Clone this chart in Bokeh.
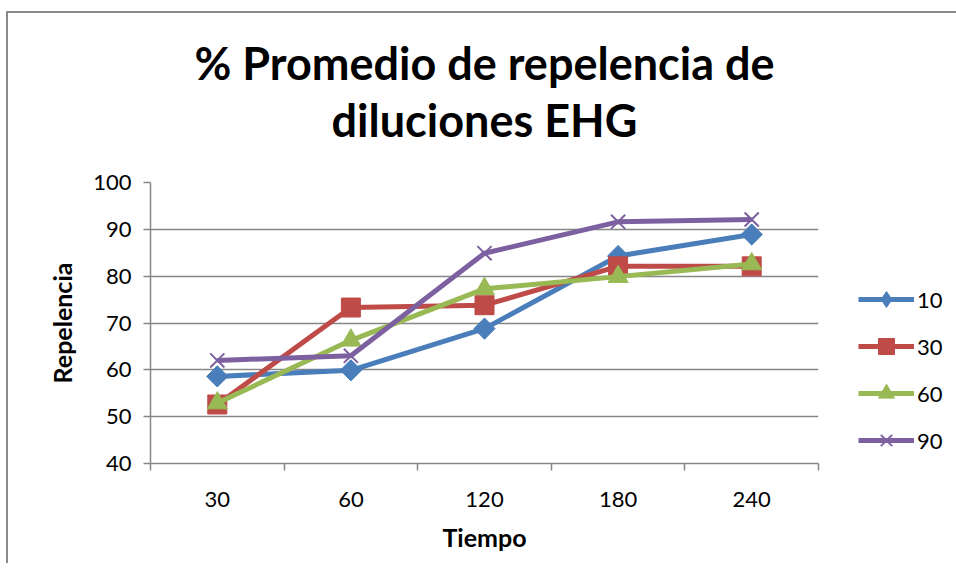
import math
from bokeh.plotting import figure
from bokeh.models import Range1d, FixedTicker, Legend, LegendItem, Title, ColumnDataSource
from bokeh.embed import file_html
from bokeh.resources import INLINE

categories = ["30", "60", "120", "180", "240"]
series_names = ["10", "30", "60", "90"]
s10 = [58.6, 59.9, 68.8, 84.3, 88.9]
s30 = [52.6, 73.3, 73.8, 82.1, 82.1]
s60 = [52.9, 66.3, 77.3, 79.9, 82.6]
s90 = [62.0, 63.0, 84.9, 91.6, 92.1]
y_ticks = [40, 50, 60, 70, 80, 90, 100]
title_lines = ["% Promedio de repelencia de", "diluciones EHG"]

colors = ["#4A7EBB", "#BE4B48", "#98B954", "#7D60A0"]
markers = ["square", "square", "triangle", "x"]
angles = [math.pi / 4, 0, 0, 0]
msizes = [15, 19, 20, 20]

FONT = "Lato"

p = figure(frame_width=668, frame_height=281, output_backend="svg", toolbar_location=None,
           x_range=Range1d(0, len(categories)), y_range=Range1d(40, 100),
           min_border_left=142, min_border_top=169, min_border_right=125,
           min_border_bottom=100)
p.outline_line_color = None
p.background_fill_color = "white"
p.border_fill_color = "white"
p.styles = {"border-left": "2px solid #8a8a8a", "border-top": "2px solid #8a8a8a",
            "margin-left": "6px", "margin-top": "11px"}

xs = [i + 0.5 for i in range(len(categories))]

# Axes
p.xaxis.ticker = FixedTicker(ticks=xs, minor_ticks=list(range(len(categories) + 1)))
p.xaxis.major_label_overrides = {x: c for x, c in zip(xs, categories)}
p.xaxis.major_tick_out = 0
p.xaxis.major_tick_in = 0
p.xaxis.minor_tick_out = 7
p.xaxis.minor_tick_in = 0
p.yaxis.ticker = FixedTicker(ticks=y_ticks, minor_ticks=[])
p.yaxis.major_tick_out = 7
p.yaxis.major_tick_in = 0
for ax in (p.xaxis, p.yaxis):
    ax.axis_line_color = "#868686"
    ax.axis_line_width = 1.5
    ax.major_tick_line_color = "#868686"
    ax.major_tick_line_width = 1.5
    ax.minor_tick_line_color = "#868686"
    ax.minor_tick_line_width = 1.5
    ax.major_label_text_font = FONT
    ax.major_label_text_font_size = "22px"
    ax.major_label_text_color = "#000000"
    ax.axis_label_text_font = FONT
    ax.axis_label_text_font_style = "bold"
    ax.axis_label_text_font_size = "25px"
    ax.axis_label_text_color = "#000000"
p.xaxis.major_label_standoff = 21
p.yaxis.major_label_standoff = 12
p.xaxis.axis_label = "Tiempo"
p.yaxis.axis_label = "Repelencia"
p.xaxis.axis_label_standoff = 12
p.yaxis.axis_label_standoff = 13

p.xgrid.visible = False
p.ygrid.grid_line_color = "#868686"
p.ygrid.grid_line_width = 1.5

# Titles (two centred lines) with a blank spacer between them and the plot
spacer = Title(text=" ", align="center", text_font=FONT, text_font_size="1px", standoff=33)
t2 = Title(text=title_lines[1], align="center", text_font=FONT, text_font_style="bold",
           text_font_size="45px", text_color="#000000", standoff=0)
t1 = Title(text=title_lines[0], align="center", text_font=FONT, text_font_style="bold",
           text_font_size="45px", text_color="#000000", standoff=2)
p.add_layout(spacer, "above")
p.add_layout(t2, "above")
p.add_layout(t1, "above")

items = []
for name, vals, col, mk, ang, ms in zip(series_names, [s10, s30, s60, s90], colors,
                                         markers, angles, msizes):
    src = ColumnDataSource(dict(x=xs, y=vals))
    r1 = p.line("x", "y", source=src, line_color=col, line_width=5)
    if mk == "x":
        r2 = p.scatter("x", "y", source=src, marker=mk, size=ms, line_color=col, line_width=2)
        leg = r2
    elif ang != 0:
        # diamond drawn underneath (used for the legend), rotated square on top
        leg = p.scatter("x", "y", source=src, marker="diamond", size=20,
                        fill_color=col, line_color=col)
        r2 = p.scatter("x", "y", source=src, marker=mk, size=ms, angle=ang,
                       fill_color=col, line_color=col)
    else:
        r2 = p.scatter("x", "y", source=src, marker=mk, size=ms,
                       fill_color=col, line_color=col)
        leg = r2
    items.append(LegendItem(label=name, renderers=[r1, leg]))

legend = Legend(items=items, location=(40, 3), glyph_width=56, glyph_height=40,
                label_height=20, spacing=7, label_standoff=3, padding=0, margin=0,
                border_line_color=None, background_fill_alpha=0,
                label_text_font=FONT, label_text_font_size="22px", label_text_color="#000000")
p.add_layout(legend, "right")

open("out.html", "w").write(file_html(p, INLINE))
